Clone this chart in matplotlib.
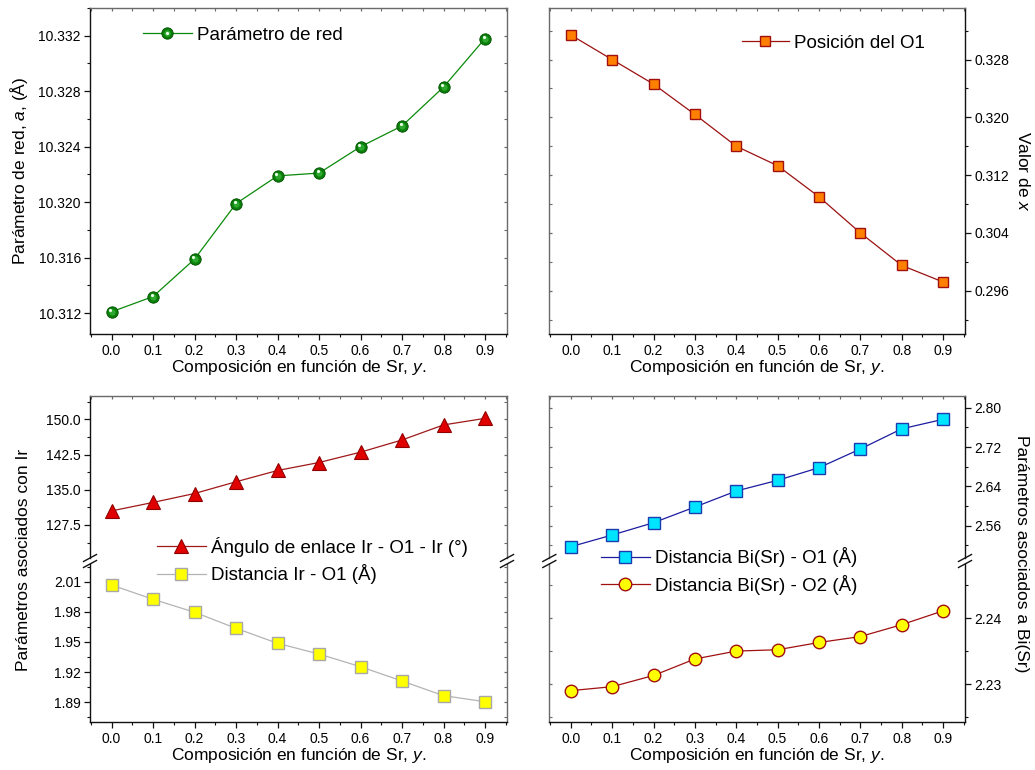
import matplotlib
matplotlib.use("Agg")
import matplotlib.pyplot as plt
import matplotlib.transforms as mtransforms
from matplotlib.lines import Line2D
from matplotlib.ticker import MultipleLocator, FormatStrFormatter
from matplotlib.legend_handler import HandlerTuple

plt.rcParams['font.family'] = ['Liberation Sans', 'DejaVu Sans']
plt.rcParams['mathtext.fontset'] = 'custom'
plt.rcParams['mathtext.rm'] = 'Liberation Sans'
plt.rcParams['mathtext.it'] = 'Liberation Sans:italic'

# ---- data ----
sr = [0.0, 0.1, 0.2, 0.3, 0.4, 0.5, 0.6, 0.7, 0.8, 0.9]
lattice_a = [10.3121, 10.3132, 10.3159, 10.3199, 10.3219, 10.3221,
             10.3240, 10.3255, 10.3283, 10.3318]
o1_x = [0.3314, 0.3280, 0.3246, 0.3204, 0.3160, 0.3133,
        0.3090, 0.3040, 0.2995, 0.2972]
angle_ir_o1_ir = [130.5, 132.3, 134.2, 136.7, 139.1, 140.8,
                  143.0, 145.6, 148.8, 150.2]
dist_ir_o1 = [2.0067, 1.9925, 1.9796, 1.9636, 1.9487, 1.9380,
              1.9254, 1.9112, 1.8966, 1.8906]
dist_bi_o1 = [2.5173, 2.5411, 2.5661, 2.5980, 2.6306, 2.6523,
              2.6780, 2.7160, 2.7570, 2.7764]
dist_bi_o2 = [2.2290, 2.2296, 2.2313, 2.2338, 2.2350, 2.2352,
              2.2363, 2.2372, 2.2390, 2.2411]

xticks = [0.0, 0.1, 0.2, 0.3, 0.4, 0.5, 0.6, 0.7, 0.8, 0.9]
xlabel = 'Composición en función de Sr, $\\it{y}$.'

W, H = 1035, 770
fig = plt.figure(figsize=(W / 100, H / 100), dpi=100)


def box(l, t, r, b):
    return [l / W, 1 - b / H, (r - l) / W, (b - t) / H]


DARK = '#111111'
GREY = '#6a6a6a'
TICK_FS = 10
LABEL_FS = 12.5
LEG_FS = 13.5


def style(ax, ylab_side='left', show_bottom=True, show_top=True):
    ax.set_xlim(-0.052, 0.953)
    ax.xaxis.set_major_locator(MultipleLocator(0.1))
    ax.xaxis.set_minor_locator(MultipleLocator(0.05))
    ax.xaxis.set_major_formatter(FormatStrFormatter('%.1f'))
    for s in ax.spines.values():
        s.set_linewidth(1.0)
    other = 'right' if ylab_side == 'left' else 'left'
    ax.spines[ylab_side].set_color(DARK)
    ax.spines['bottom'].set_color(DARK)
    ax.spines['top'].set_color(GREY)
    ax.spines[other].set_color(GREY)
    ax.spines['bottom'].set_visible(show_bottom)
    ax.spines['top'].set_visible(show_top)
    # x ticks
    ax.tick_params(axis='x', which='both', bottom=show_bottom,
                   labelbottom=show_bottom, top=show_top, labeltop=False)
    ax.tick_params(axis='x', which='major', direction='out', length=4,
                   width=0.9, pad=3, labelsize=TICK_FS, color=DARK)
    ax.tick_params(axis='x', which='minor', direction='out', length=2,
                   width=0.8, color=DARK)
    # y ticks
    if ylab_side == 'left':
        ax.tick_params(axis='y', which='both', left=True, right=True,
                       labelleft=True, labelright=False)
    else:
        ax.tick_params(axis='y', which='both', left=True, right=True,
                       labelleft=False, labelright=True)
    ax.tick_params(axis='y', which='major', direction='out', length=4,
                   width=0.9, pad=2.5, labelsize=TICK_FS, color=DARK)
    ax.tick_params(axis='y', which='minor', direction='out', length=2,
                   width=0.8, color=DARK)


def inward_secondary(ax, ylab_side='left', show_top=True):
    # small inward ticks on the mirrored (grey) sides
    other = 'right' if ylab_side == 'left' else 'left'
    for t in ax.yaxis.get_major_ticks() + ax.yaxis.get_minor_ticks():
        line = t.tick2line if other == 'right' else t.tick1line
        line.set_marker(0 if other == 'right' else 1)
        line.set_markersize(2.5)
        line.set_color(GREY)
        line.set_markeredgecolor(GREY)
    if show_top:
        for t in ax.xaxis.get_major_ticks() + ax.xaxis.get_minor_ticks():
            t.tick2line.set_marker(3)
            t.tick2line.set_markersize(2.5)
            t.tick2line.set_markeredgecolor(GREY)


def sphere(ax, x, y, line_color, base, mid, hi, ms):
    ax.plot(x, y, '-', color=line_color, lw=0.9, zorder=2)
    h1, = ax.plot(x, y, 'o', ms=ms, mfc=base, mec='#004d00', mew=0.6,
                  ls='none', zorder=3)
    h2, = ax.plot(x, y, 'o', ms=ms * 0.55, mfc=mid, mec='none', ls='none',
                  zorder=4)
    off = mtransforms.ScaledTranslation(-0.8 / 72, 1.2 / 72, fig.dpi_scale_trans)
    h3, = ax.plot(x, y, 'o', ms=ms * 0.28, mfc=hi, mec='none', ls='none',
                  zorder=5, transform=ax.transData + off)
    return h1, h2, h3


# ---- top left: lattice parameter ----
ax1 = fig.add_axes(box(90, 8, 507, 334))
style(ax1, 'left')
ax1.set_ylim(10.3105, 10.3340)
ax1.yaxis.set_major_locator(MultipleLocator(0.004))
ax1.yaxis.set_minor_locator(MultipleLocator(0.002))
ax1.yaxis.set_major_formatter(FormatStrFormatter('%.3f'))
sphere(ax1, sr, lattice_a, '#0a8a0a', '#0a800a', '#2fa82f', '#e8ffe8', 8.2)
ax1.set_xticks(xticks)
ax1.set_xlabel(xlabel, fontsize=LABEL_FS, labelpad=0)
ax1.set_ylabel('Parámetro de red, $\\it{a}$, (Å)', fontsize=LABEL_FS,
               labelpad=6)
inward_secondary(ax1, 'left')
leg_line = Line2D([], [], color='#0a8a0a', lw=0.9)
leg_ball = Line2D([], [], marker='o', ms=8.2, mfc='#0a800a', mec='#004d00',
                  mew=0.6, ls='none')
leg_mid = Line2D([], [], marker='o', ms=4.5, mfc='#2fa82f', mec='none',
                 ls='none')
leg_hi = Line2D([], [], marker='o', ms=2.3, mfc='#e8ffe8', mec='none',
                ls='none')
fig.legend([(leg_line, leg_ball, leg_mid, leg_hi)], ['Parámetro de red'],
           handler_map={tuple: HandlerTuple(ndivide=1, pad=0)},
           loc='center left', bbox_to_anchor=(143 / W, 1 - 35 / H),
           frameon=False, fontsize=LEG_FS, handlelength=2.6,
           handletextpad=0.3, borderpad=0, borderaxespad=0)

# ---- top right: O1 position ----
ax2 = fig.add_axes(box(549.3, 8.3, 965, 334))
style(ax2, 'right')
ax2.set_ylim(0.2900, 0.3351)
ax2.yaxis.set_major_locator(MultipleLocator(0.008))
ax2.yaxis.set_minor_locator(MultipleLocator(0.004))
ax2.yaxis.set_major_formatter(FormatStrFormatter('%.3f'))
ax2.plot(sr, o1_x, '-s', color='#9c1010', lw=0.9, ms=7.8, mfc='#ff7f00',
         mec='#a01010', mew=1.0, label='Posición del O1')
ax2.set_xticks(xticks)
ax2.set_xlabel(xlabel, fontsize=LABEL_FS, labelpad=0)
ax2.yaxis.set_label_position('right')
ax2.set_ylabel('Valor de $\\it{x}$', fontsize=LABEL_FS, rotation=270,
               labelpad=16)
inward_secondary(ax2, 'right')
fig.legend(*ax2.get_legend_handles_labels(), loc='center left',
           bbox_to_anchor=(741.7 / W, 1 - 43 / H), frameon=False,
           fontsize=LEG_FS, handlelength=2.5, handletextpad=0.3,
           borderpad=0, borderaxespad=0)

# ---- bottom left: Ir parameters (broken axis) ----
ax3u = fig.add_axes(box(90, 396, 507, 558))
ax3l = fig.add_axes(box(90, 564, 507, 722.3))
style(ax3u, 'left', show_bottom=False, show_top=True)
style(ax3l, 'left', show_bottom=True, show_top=False)
ax3u.set_ylim(120.47, 154.96)
ax3u.yaxis.set_major_locator(MultipleLocator(7.5))
ax3u.yaxis.set_minor_locator(MultipleLocator(3.75))
ax3u.yaxis.set_major_formatter(FormatStrFormatter('%.1f'))
ax3l.set_ylim(1.8701, 2.0276)
ax3l.yaxis.set_major_locator(MultipleLocator(0.03))
ax3l.yaxis.set_minor_locator(MultipleLocator(0.015))
ax3l.yaxis.set_major_formatter(FormatStrFormatter('%.2f'))
ha, = ax3u.plot(sr, angle_ir_o1_ir, '-^', color='#a01818', lw=0.9, ms=10,
                mfc='#e00000', mec='#900000', mew=0.8)
hb, = ax3l.plot(sr, dist_ir_o1, '-s', color='#b4b4b4', lw=0.9, ms=8.2,
                mfc='#ffff00', mec='#a8a8a8', mew=1.0)
ax3l.set_xticks(xticks)
ax3l.set_xlabel(xlabel, fontsize=LABEL_FS, labelpad=0)
inward_secondary(ax3u, 'left', show_top=True)
inward_secondary(ax3l, 'left', show_top=False)
fig.text(24 / W, 1 - 560 / H, 'Parámetros asociados con Ir',
         fontsize=LABEL_FS, rotation=90, ha='center', va='center')
fig.legend([ha, hb], ['Ángulo de enlace Ir - O1 - Ir (°)',
                      'Distancia Ir - O1 (Å)'],
           loc='center left', bbox_to_anchor=(157 / W, 1 - 560.5 / H),
           frameon=False, fontsize=LEG_FS, handlelength=2.6,
           handletextpad=0.3, borderpad=0, borderaxespad=0,
           labelspacing=0.4)

# ---- bottom right: Bi(Sr) parameters (broken axis) ----
ax4u = fig.add_axes(box(549.3, 396, 965, 558))
ax4l = fig.add_axes(box(549.3, 564, 965, 722.3))
style(ax4u, 'right', show_bottom=False, show_top=True)
style(ax4l, 'right', show_bottom=True, show_top=False)
ax4u.set_ylim(2.4943, 2.8238)
ax4u.yaxis.set_major_locator(MultipleLocator(0.08))
ax4u.yaxis.set_minor_locator(MultipleLocator(0.04))
ax4u.yaxis.set_major_formatter(FormatStrFormatter('%.2f'))
ax4l.set_ylim(2.2242, 2.2482)
ax4l.yaxis.set_major_locator(MultipleLocator(0.01))
ax4l.yaxis.set_minor_locator(MultipleLocator(0.005))
ax4l.yaxis.set_major_formatter(FormatStrFormatter('%.2f'))
hc, = ax4u.plot(sr, dist_bi_o1, '-s', color='#1c1ca0', lw=0.9, ms=8.2,
                mfc='#00e5ff', mec='#1c3cb0', mew=1.0)
hd, = ax4l.plot(sr, dist_bi_o2, '-o', color='#a01010', lw=0.9, ms=9,
                mfc='#ffff00', mec='#a01010', mew=1.0)
ax4l.set_xticks(xticks)
ax4l.set_xlabel(xlabel, fontsize=LABEL_FS, labelpad=0)
inward_secondary(ax4u, 'right', show_top=True)
inward_secondary(ax4l, 'right', show_top=False)
fig.text(1021 / W, 1 - 554 / H, 'Parámetros asociados a Bi(Sr)',
         fontsize=LABEL_FS, rotation=270, ha='center', va='center')
fig.legend([hc, hd], ['Distancia Bi(Sr) - O1 (Å)',
                      'Distancia Bi(Sr) - O2 (Å)'],
           loc='center left', bbox_to_anchor=(601 / W, 1 - 571 / H),
           frameon=False, fontsize=LEG_FS, handlelength=2.6,
           handletextpad=0.3, borderpad=0, borderaxespad=0,
           labelspacing=0.4)

# ---- axis-break marks ----
for xs in (90, 507, 549.3, 965):
    for yb in (558, 564):
        fig.add_artist(Line2D([(xs - 6.5) / W, (xs + 6.5) / W],
                              [1 - (yb + 3.5) / H, 1 - (yb - 3.5) / H],
                              transform=fig.transFigure, color=DARK,
                              lw=1.0))

fig.savefig('out.png', dpi=100)
